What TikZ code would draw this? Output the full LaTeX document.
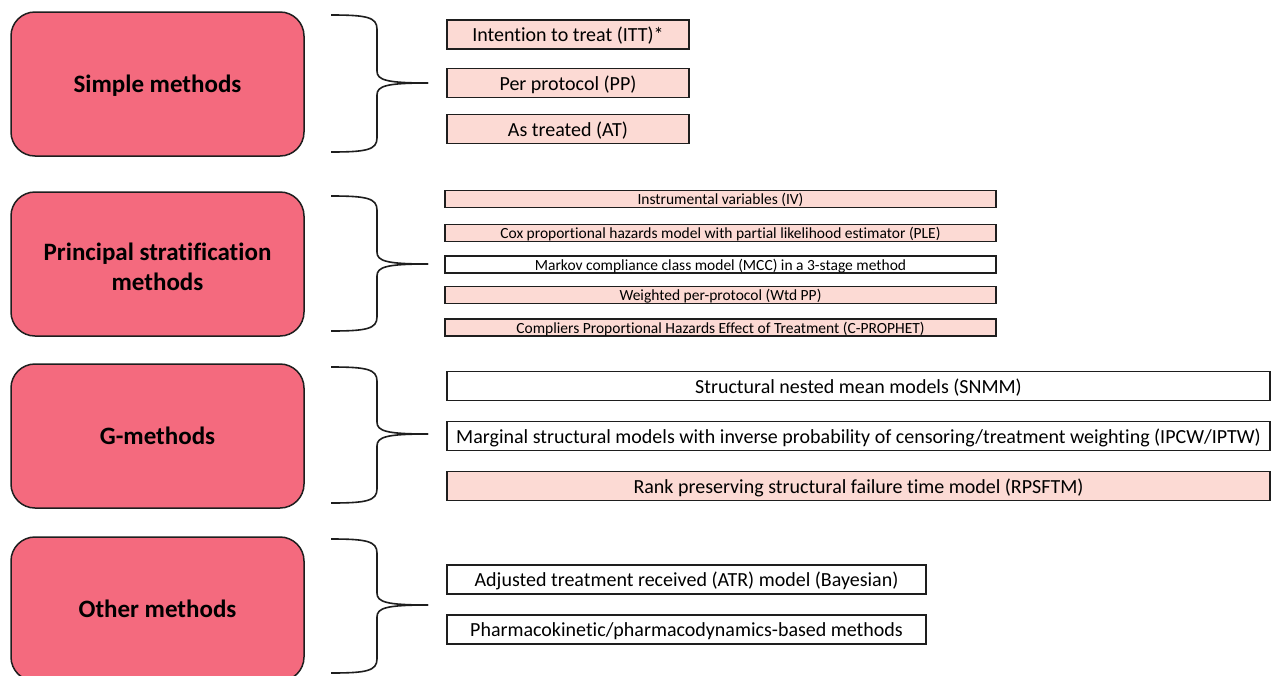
\documentclass[tikz,border=0pt]{standalone}
\usepackage{fontspec}
\setmainfont{Carlito}[Ligatures=NoCommon]
\definecolor{catred}{HTML}{F46A7E}
\definecolor{lightpink}{HTML}{FCDAD4}
\definecolor{edge}{HTML}{1E1E1E}
\tikzset{
  catbox/.style={draw=edge, line width=1.5pt, fill=catred, rounded corners=24pt,
    minimum width=293pt, minimum height=144pt, align=center, inner sep=0pt,
    font=\fontsize{25}{30}\selectfont\bfseries},
  catlabel/.style={align=center, inner sep=0pt, text depth=0pt,
    font=\fontsize{25}{30}\selectfont\bfseries},
  bigitem/.style={draw=edge, line width=1.8pt, minimum height=29pt, inner sep=0pt,
    text depth=0pt, font=\fontsize{20}{22}\selectfont},
  smallitem/.style={draw=edge, line width=1.6pt, minimum height=17pt, inner sep=0pt,
    text depth=0pt, minimum width=551pt, font=\fontsize{15.5}{16}\selectfont},
  pinkfill/.style={fill=lightpink},
  whitefill/.style={fill=white},
  bracestyle/.style={draw=edge, line width=1.6pt}
}
\newcommand\mybrace[3]{%
  \draw[bracestyle] (331,#1) .. controls (366,#1) and (377,{#1+2}) .. (377,{#1+14})
    -- (377,{#2-12}) .. controls (377,{#2-3}) and (386,#2) .. (428,#2);
  \draw[bracestyle] (428,#2) .. controls (386,#2) and (377,{#2+3}) .. (377,{#2+12})
    -- (377,{#3-14}) .. controls (377,{#3-2}) and (366,#3) .. (331,#3);
}
\begin{document}
\begin{tikzpicture}[x=1pt,y=-1pt]
\clip (0,0) rectangle (1272,675);
\fill[white] (0,0) rectangle (1272,675);

% category boxes
\node[catbox] (simple) at (157.5,84) {};
\node[catlabel] (simplelabel) at (simple.center) {Simple methods};
\node[catbox] (princ) at (157.5,264) {};
\node[catlabel] (princlabel) at ([yshift=-3pt]princ.center) {Principal stratification\\methods};
\node[catbox] (gmeth) at (157.5,436) {};
\node[catlabel] (gmethlabel) at (gmeth.center) {G-methods};
\node[catbox] (other) at (157.5,609) {};
\node[catlabel] (otherlabel) at (other.center) {Other methods};

% braces
\mybrace{15}{83}{152}
\mybrace{196}{264}{331}
\mybrace{367}{434}{503}
\mybrace{539}{605}{673}

% group 1
\node[bigitem, pinkfill, minimum width=242pt] (itt) at (568,34.5) {Intention to treat (ITT)*};
\node[bigitem, pinkfill, minimum width=242pt] (pp) at (568,83) {Per protocol (PP)};
\node[bigitem, pinkfill, minimum width=242pt] (at) at (568,129) {As treated (AT)};

% group 2
\node[smallitem, pinkfill] (iv) at (720.5,199) {Instrumental variables (IV)};
\node[smallitem, pinkfill] (cox) at (720.5,233) {Cox proportional hazards model with partial likelihood estimator (PLE)};
\node[smallitem, whitefill] (mcc) at (720.5,264.5) {Markov compliance class model (MCC) in a 3-stage method};
\node[smallitem, pinkfill] (wtd) at (720.5,295) {Weighted per-protocol (Wtd PP)};
\node[smallitem, pinkfill] (cproph) at (720.5,327.5) {Compliers Proportional Hazards Effect of Treatment (C-PROPHET)};

% group 3
\node[bigitem, whitefill, minimum width=823pt] (snmm) at (858.5,386) {Structural nested mean models (SNMM)};
\node[bigitem, whitefill, minimum width=823pt] (msm) at (858.5,436) {Marginal structural models with inverse probability of censoring/treatment weighting (IPCW/IPTW)};
\node[bigitem, pinkfill, minimum width=823pt] (rpsftm) at (858.5,486) {Rank preserving structural failure time model (RPSFTM)};

% group 4
\node[bigitem, whitefill, minimum width=479pt] (atr) at (686.5,579.5) {Adjusted treatment received (ATR) model (Bayesian)};
\node[bigitem, whitefill, minimum width=479pt] (pkpd) at (686.5,629.5) {Pharmacokinetic/pharmacodynamics-based methods};
\end{tikzpicture}
\end{document}
